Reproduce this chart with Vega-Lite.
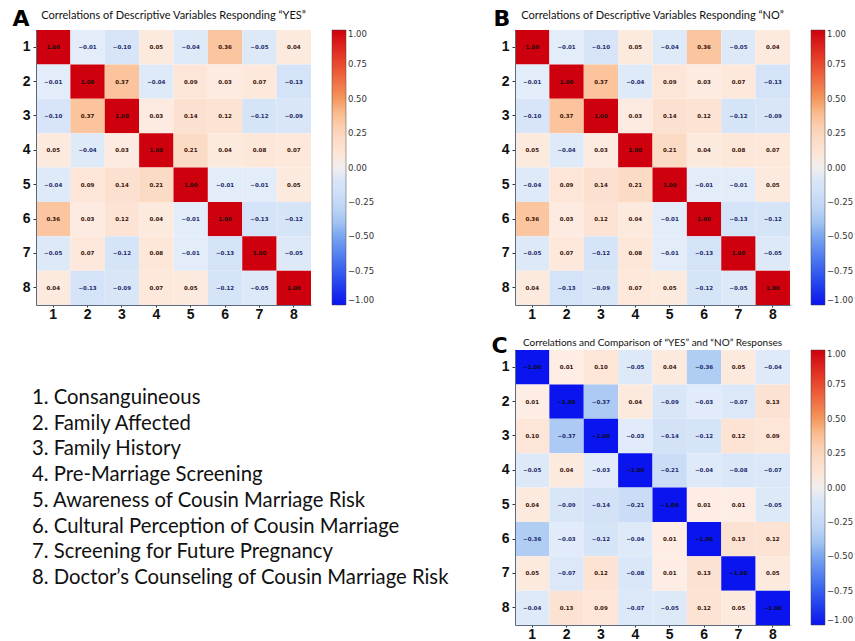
{
  "$schema": "https://vega.github.io/schema/vega-lite/v6.json",
  "background": "white",
  "padding": {"left": 12, "top": 7, "right": 2, "bottom": 0},
  "columns": 2,
  "spacing": {"row": 45, "column": 204},
  "bounds": "flush",
  "align": "all",
  "resolve": {"scale": {"color": "independent", "x": "independent", "y": "independent"}, "legend": {"color": "independent"}},
  "datasets": {
    "cells": [
      {"r":1,"c":1,"yes":1.00,"no":1.00,"diff":-1.00},{"r":1,"c":2,"yes":-0.01,"no":-0.01,"diff":0.01},{"r":1,"c":3,"yes":-0.10,"no":-0.10,"diff":0.10},{"r":1,"c":4,"yes":0.05,"no":0.05,"diff":-0.05},{"r":1,"c":5,"yes":-0.04,"no":-0.04,"diff":0.04},{"r":1,"c":6,"yes":0.36,"no":0.36,"diff":-0.36},{"r":1,"c":7,"yes":-0.05,"no":-0.05,"diff":0.05},{"r":1,"c":8,"yes":0.04,"no":0.04,"diff":-0.04},
      {"r":2,"c":1,"yes":-0.01,"no":-0.01,"diff":0.01},{"r":2,"c":2,"yes":1.00,"no":1.00,"diff":-1.00},{"r":2,"c":3,"yes":0.37,"no":0.37,"diff":-0.37},{"r":2,"c":4,"yes":-0.04,"no":-0.04,"diff":0.04},{"r":2,"c":5,"yes":0.09,"no":0.09,"diff":-0.09},{"r":2,"c":6,"yes":0.03,"no":0.03,"diff":-0.03},{"r":2,"c":7,"yes":0.07,"no":0.07,"diff":-0.07},{"r":2,"c":8,"yes":-0.13,"no":-0.13,"diff":0.13},
      {"r":3,"c":1,"yes":-0.10,"no":-0.10,"diff":0.10},{"r":3,"c":2,"yes":0.37,"no":0.37,"diff":-0.37},{"r":3,"c":3,"yes":1.00,"no":1.00,"diff":-1.00},{"r":3,"c":4,"yes":0.03,"no":0.03,"diff":-0.03},{"r":3,"c":5,"yes":0.14,"no":0.14,"diff":-0.14},{"r":3,"c":6,"yes":0.12,"no":0.12,"diff":-0.12},{"r":3,"c":7,"yes":-0.12,"no":-0.12,"diff":0.12},{"r":3,"c":8,"yes":-0.09,"no":-0.09,"diff":0.09},
      {"r":4,"c":1,"yes":0.05,"no":0.05,"diff":-0.05},{"r":4,"c":2,"yes":-0.04,"no":-0.04,"diff":0.04},{"r":4,"c":3,"yes":0.03,"no":0.03,"diff":-0.03},{"r":4,"c":4,"yes":1.00,"no":1.00,"diff":-1.00},{"r":4,"c":5,"yes":0.21,"no":0.21,"diff":-0.21},{"r":4,"c":6,"yes":0.04,"no":0.04,"diff":-0.04},{"r":4,"c":7,"yes":0.08,"no":0.08,"diff":-0.08},{"r":4,"c":8,"yes":0.07,"no":0.07,"diff":-0.07},
      {"r":5,"c":1,"yes":-0.04,"no":-0.04,"diff":0.04},{"r":5,"c":2,"yes":0.09,"no":0.09,"diff":-0.09},{"r":5,"c":3,"yes":0.14,"no":0.14,"diff":-0.14},{"r":5,"c":4,"yes":0.21,"no":0.21,"diff":-0.21},{"r":5,"c":5,"yes":1.00,"no":1.00,"diff":-1.00},{"r":5,"c":6,"yes":-0.01,"no":-0.01,"diff":0.01},{"r":5,"c":7,"yes":-0.01,"no":-0.01,"diff":0.01},{"r":5,"c":8,"yes":0.05,"no":0.05,"diff":-0.05},
      {"r":6,"c":1,"yes":0.36,"no":0.36,"diff":-0.36},{"r":6,"c":2,"yes":0.03,"no":0.03,"diff":-0.03},{"r":6,"c":3,"yes":0.12,"no":0.12,"diff":-0.12},{"r":6,"c":4,"yes":0.04,"no":0.04,"diff":-0.04},{"r":6,"c":5,"yes":-0.01,"no":-0.01,"diff":0.01},{"r":6,"c":6,"yes":1.00,"no":1.00,"diff":-1.00},{"r":6,"c":7,"yes":-0.13,"no":-0.13,"diff":0.13},{"r":6,"c":8,"yes":-0.12,"no":-0.12,"diff":0.12},
      {"r":7,"c":1,"yes":-0.05,"no":-0.05,"diff":0.05},{"r":7,"c":2,"yes":0.07,"no":0.07,"diff":-0.07},{"r":7,"c":3,"yes":-0.12,"no":-0.12,"diff":0.12},{"r":7,"c":4,"yes":0.08,"no":0.08,"diff":-0.08},{"r":7,"c":5,"yes":-0.01,"no":-0.01,"diff":0.01},{"r":7,"c":6,"yes":-0.13,"no":-0.13,"diff":0.13},{"r":7,"c":7,"yes":1.00,"no":1.00,"diff":-1.00},{"r":7,"c":8,"yes":-0.05,"no":-0.05,"diff":0.05},
      {"r":8,"c":1,"yes":0.04,"no":0.04,"diff":-0.04},{"r":8,"c":2,"yes":-0.13,"no":-0.13,"diff":0.13},{"r":8,"c":3,"yes":-0.09,"no":-0.09,"diff":0.09},{"r":8,"c":4,"yes":0.07,"no":0.07,"diff":-0.07},{"r":8,"c":5,"yes":0.05,"no":0.05,"diff":-0.05},{"r":8,"c":6,"yes":-0.12,"no":-0.12,"diff":0.12},{"r":8,"c":7,"yes":-0.05,"no":-0.05,"diff":0.05},{"r":8,"c":8,"yes":1.00,"no":1.00,"diff":-1.00}
    ],
    "names": [
      {"n":1,"label":"1. Consanguineous"},
      {"n":2,"label":"2. Family Affected"},
      {"n":3,"label":"3. Family History"},
      {"n":4,"label":"4. Pre-Marriage Screening"},
      {"n":5,"label":"5. Awareness of Cousin Marriage Risk"},
      {"n":6,"label":"6. Cultural Perception of Cousin Marriage"},
      {"n":7,"label":"7. Screening for Future Pregnancy"},
      {"n":8,"label":"8. Doctor’s Counseling of Cousin Marriage Risk"}
    ]
  },
  "concat": [
    {
      "data": {"name": "cells"},
      "width": 275, "height": 275,
      "title": {"text": "Correlations of Descriptive Variables Responding “YES”"},
      "encoding": {
        "x": {"field": "c", "type": "ordinal", "axis": {"orient": "bottom", "labelAngle": 0, "title": null}},
        "y": {"field": "r", "type": "ordinal", "axis": {"title": "A", "titleX": -24, "titleY": -5}}
      },
      "layer": [
        {"mark": {"type": "rect"}, "encoding": {"color": {"field": "yes", "type": "quantitative",
          "scale": {"domain": [-1,-0.75,-0.5,-0.36,-0.25,-0.001,0.001,0.2,0.37,0.5,0.75,1], "range": ["#0a14ee","#3560ef","#7aa6f0","#b0cdf3","#c6daf6","#e4edf9","#fdeee5","#fcdcc8","#fbc49c","#f4975c","#ea4a2e","#cf000e"], "interpolate": "rgb"},
          "legend": {"values": [-1,-0.75,-0.5,-0.25,0,0.25,0.5,0.75,1], "format": ".2f"}}}},
        {"mark": {"type": "text", "font": "DejaVu Sans", "fontWeight": "bold", "fontSize": 5.5}, "encoding": {"text": {"field": "yes", "type": "quantitative", "format": ".2f"}, "color": {"condition": [{"test": "abs(datum.yes) >= 1", "value": "#1a0a08"}, {"test": "datum.yes < 0", "value": "#1d2b6e"}], "value": "#3a1208"}}}
      ]
    },
    {
      "data": {"name": "cells"},
      "width": 275, "height": 275,
      "title": {"text": "Correlations of Descriptive Variables Responding “NO”"},
      "encoding": {
        "x": {"field": "c", "type": "ordinal", "axis": {"orient": "bottom", "labelAngle": 0, "title": null}},
        "y": {"field": "r", "type": "ordinal", "axis": {"title": "B", "titleX": -22, "titleY": -5}}
      },
      "layer": [
        {"mark": {"type": "rect"}, "encoding": {"color": {"field": "no", "type": "quantitative",
          "scale": {"domain": [-1,-0.75,-0.5,-0.36,-0.25,-0.001,0.001,0.2,0.37,0.5,0.75,1], "range": ["#0a14ee","#3560ef","#7aa6f0","#b0cdf3","#c6daf6","#e4edf9","#fdeee5","#fcdcc8","#fbc49c","#f4975c","#ea4a2e","#cf000e"], "interpolate": "rgb"},
          "legend": {"values": [-1,-0.75,-0.5,-0.25,0,0.25,0.5,0.75,1], "format": ".2f"}}}},
        {"mark": {"type": "text", "font": "DejaVu Sans", "fontWeight": "bold", "fontSize": 5.5}, "encoding": {"text": {"field": "no", "type": "quantitative", "format": ".2f"}, "color": {"condition": [{"test": "abs(datum.no) >= 1", "value": "#1a0a08"}, {"test": "datum.no < 0", "value": "#1d2b6e"}], "value": "#3a1208"}}}
      ]
    },
    {
      "data": {"name": "names"},
      "width": 275, "height": 275,
      "mark": {"type": "text", "align": "left", "baseline": "middle", "font": "Lato", "fontSize": 20.3, "color": "#111", "dx": -4},
      "encoding": {
        "x": {"datum": 0, "type": "quantitative", "scale": {"domain": [0, 1]}, "axis": null},
        "y": {"field": "n", "type": "quantitative", "scale": {"domain": [-0.868, 9.832], "reverse": true, "nice": false, "zero": false}, "axis": null},
        "text": {"field": "label", "type": "nominal"}
      }
    },
    {
      "data": {"name": "cells"},
      "width": 275, "height": 275,
      "title": {"text": "Correlations and Comparison of “YES” and “NO” Responses", "fontSize": 10},
      "encoding": {
        "x": {"field": "c", "type": "ordinal", "axis": {"orient": "bottom", "labelAngle": 0, "title": null}},
        "y": {"field": "r", "type": "ordinal", "axis": {"title": "C", "titleX": -24, "titleY": 2}}
      },
      "layer": [
        {"mark": {"type": "rect"}, "encoding": {"color": {"field": "diff", "type": "quantitative",
          "scale": {"domain": [-1,-0.75,-0.5,-0.36,-0.25,-0.001,0.001,0.2,0.37,0.5,0.75,1], "range": ["#0a14ee","#3560ef","#7aa6f0","#b0cdf3","#c6daf6","#e4edf9","#fdeee5","#fcdcc8","#fbc49c","#f4975c","#ea4a2e","#cf000e"], "interpolate": "rgb"},
          "legend": {"values": [-1,-0.75,-0.5,-0.25,0,0.25,0.5,0.75,1], "format": ".2f"}}}},
        {"mark": {"type": "text", "font": "DejaVu Sans", "fontWeight": "bold", "fontSize": 5.5}, "encoding": {"text": {"field": "diff", "type": "quantitative", "format": ".2f"}, "color": {"condition": [{"test": "abs(datum.diff) >= 1", "value": "#0a0a18"}, {"test": "datum.diff < 0", "value": "#1d2b6e"}], "value": "#3a1208"}}}
      ]
    }
  ],
  "config": {
    "font": "Lato",
    "view": {"stroke": null},
    "title": {"font": "Lato", "fontSize": 11, "fontWeight": "normal", "color": "#111", "anchor": "middle", "offset": -14},
    "axis": {
      "labelFont": "Liberation Sans", "labelFontWeight": "bold", "labelFontSize": 14, "labelColor": "#111",
      "tickColor": "#333", "tickSize": 2, "labelPadding": 0, "domainColor": "#5a6a80", "grid": false,
      "titleAngle": 0, "titleAlign": "left", "titleBaseline": "alphabetic", "titleFont": "DejaVu Sans", "titleFontWeight": "bold", "titleFontSize": 22, "titleColor": "#000"
    },
    "axisY": {"labelPadding": 3, "tickSize": 3},
    "legend": {
      "orient": "right", "offset": 21, "padding": 0, "gradientLength": 275, "gradientThickness": 14, "title": null,
      "labelFont": "DejaVu Sans", "labelFontSize": 8.5, "labelColor": "#333", "labelOffset": 3, "labelBaseline": "middle", "labelOverlap": false,
      "gradientStrokeColor": "#444", "gradientStrokeWidth": 0.5, "direction": "vertical"
    }
  }
}
